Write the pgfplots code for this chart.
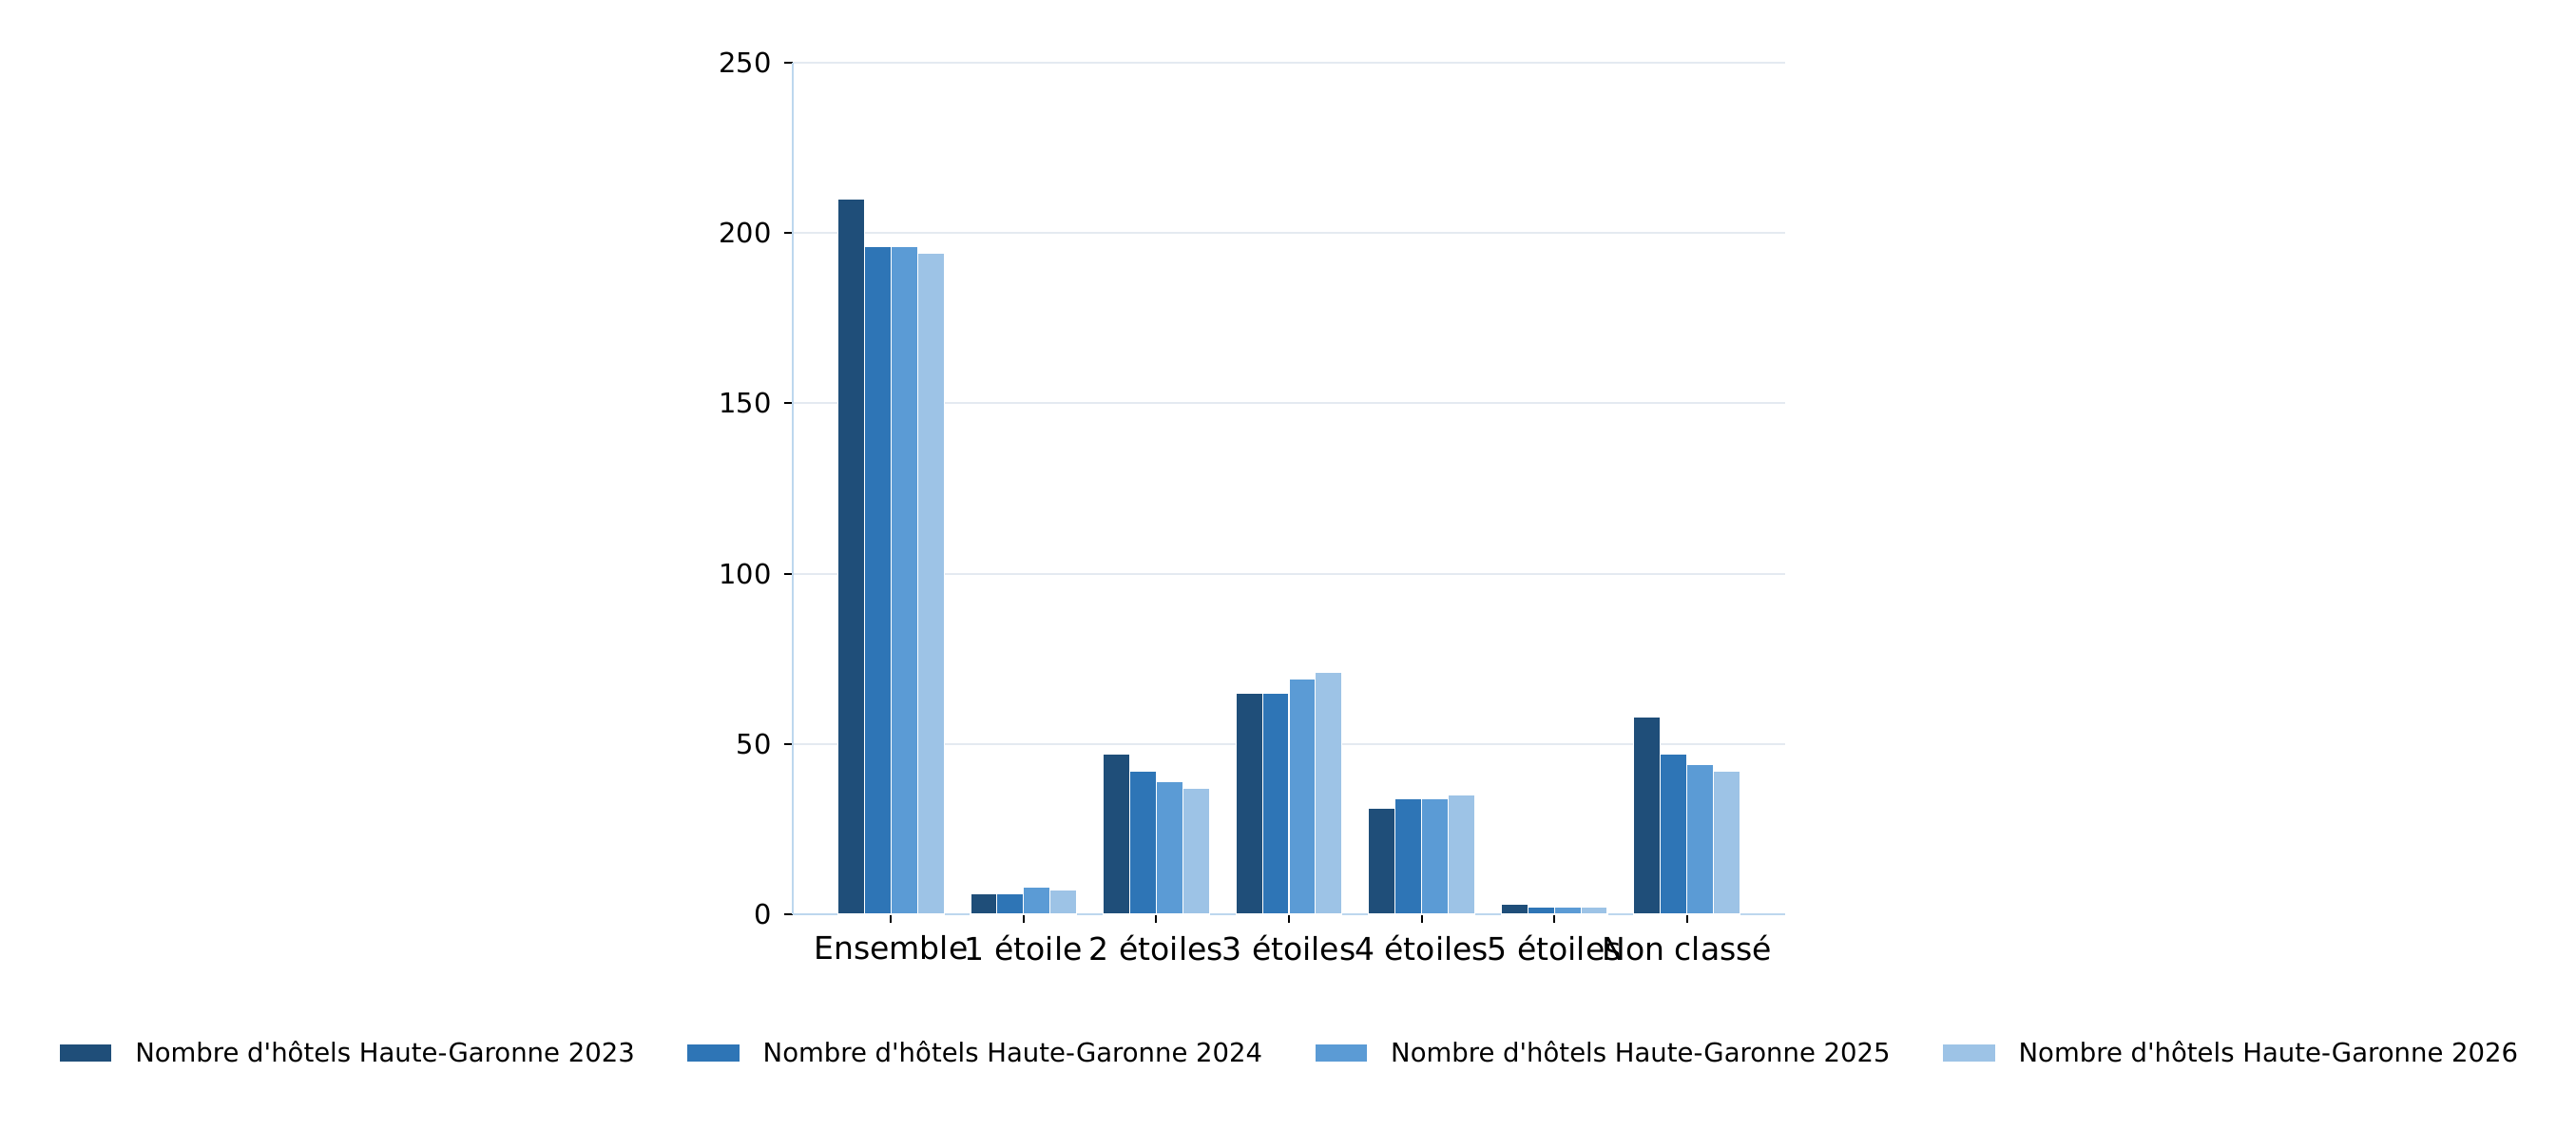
\documentclass[border=0pt]{standalone}
\usepackage{fontspec}
\setmainfont{DejaVu Sans}
\usepackage{pgfplots}
\pgfplotsset{compat=1.18}
\definecolor{cA}{HTML}{1F4E79}
\definecolor{cB}{HTML}{2E75B6}
\definecolor{cC}{HTML}{5B9BD5}
\definecolor{cD}{HTML}{9DC3E6}
\definecolor{spinec}{HTML}{BDD7EE}
\definecolor{gridc}{HTML}{E4EAF1}
\begin{document}
\begin{tikzpicture}
\useasboundingbox (-300.24bp,-81.72bp) rectangle (675.36bp,346.32bp);
\begin{axis}[
  at={(0,0)}, anchor=south west,
  scale only axis, width=375.84bp, height=322.56bp,
  xmin=-0.74, xmax=6.74, ymin=0, ymax=250,
  ybar, bar width=0.2,
  axis x line*=bottom, axis y line*=left,
  axis line style={color=spinec, line width=0.75bp},
  ymajorgrids, grid style={color=gridc, line width=0.7bp},
  xtick={0,1,2,3,4,5,6},
  xticklabels={Ensemble,1 étoile,2 étoiles,3 étoiles,4 étoiles,5 étoiles,Non classé},
  ytick={0,50,100,150,200,250},
  tick align=outside,
  major tick length=3.4bp,
  tick style={black, line width=0.7bp},
  /pgf/number format/assume math mode=true,
  yticklabel style={font=\fontsize{10.4bp}{12bp}\selectfont, xshift=-1.2bp},
  xticklabel style={font=\fontsize{11.9bp}{13bp}\selectfont, yshift=-1.0bp},
  legend columns=4,
  legend cell align=left,
  legend image code/.code={\fill[#1,draw=none] (0bp,-3.25bp) rectangle (19.6bp,3.25bp); \path (28.4bp,0bp);},
  legend style={at={(0.5,-0.1631)}, anchor=center, draw=none, fill=none,
    font=\fontsize{9.9bp}{11bp}\selectfont,
    nodes={inner sep=0pt},
    /tikz/every even column/.append style={column sep=20bp}},
]
\addplot[fill=cA, draw=white, line width=0.4bp, bar shift=-0.3] coordinates {(0,210) (1,6) (2,47) (3,65) (4,31) (5,3) (6,58)};
\addlegendentry{Nombre d\textquotesingle hôtels Haute-Garonne 2023}
\addplot[fill=cB, draw=white, line width=0.4bp, bar shift=-0.1] coordinates {(0,196) (1,6) (2,42) (3,65) (4,34) (5,2) (6,47)};
\addlegendentry{Nombre d\textquotesingle hôtels Haute-Garonne 2024}
\addplot[fill=cC, draw=white, line width=0.4bp, bar shift=0.1] coordinates {(0,196) (1,8) (2,39) (3,69) (4,34) (5,2) (6,44)};
\addlegendentry{Nombre d\textquotesingle hôtels Haute-Garonne 2025}
\addplot[fill=cD, draw=white, line width=0.4bp, bar shift=0.3] coordinates {(0,194) (1,7) (2,37) (3,71) (4,35) (5,2) (6,42)};
\addlegendentry{Nombre d\textquotesingle hôtels Haute-Garonne 2026}
\end{axis}
\end{tikzpicture}
\end{document}
